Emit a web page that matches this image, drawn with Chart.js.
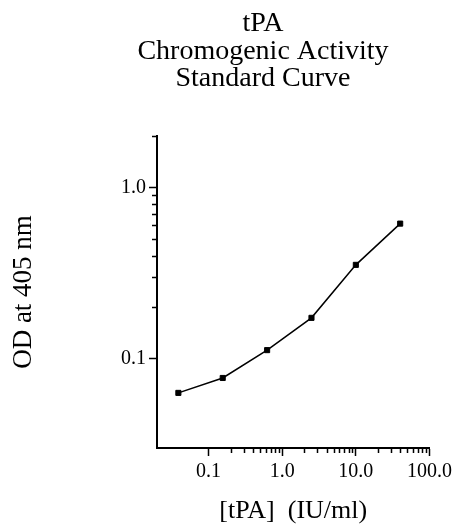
<!DOCTYPE html>
<html>
<head>
<meta charset="utf-8">
<script src="https://cdn.jsdelivr.net/npm/chart.js@4"></script>
<style>
  body { margin: 0; background: #fff; }
  canvas { display: block; }
</style>
</head>
<body>
<canvas id="curveChart" width="456" height="527"></canvas>
<script>
// データ
let titleLines = ['tPA', 'Chromogenic Activity', 'Standard Curve'];
let concentration = [0.039, 0.156, 0.625, 2.5, 10, 40]; // IU/ml
let odValues = [0.063, 0.077, 0.112, 0.173, 0.353, 0.615];

let xMajorTicks = [0.1, 1, 10, 100];
let xTickLabels = ['0.1', '1.0', '10.0', '100.0'];
let xMinorTicks = [0.2, 0.3, 0.4, 0.5, 0.6, 0.7, 0.8, 0.9, 2, 3, 4, 5, 6, 7, 8, 9, 20, 30, 40, 50, 60, 70, 80, 90];
let yMajorTicks = [0.1, 1];
let yTickLabels = ['0.1', '1.0'];
let yMinorTicks = [0.2, 0.3, 0.4, 0.5, 0.6, 0.7, 0.8, 0.9, 2];

let serif = 'Liberation Serif, Times New Roman, serif';

// タイトルと副目盛りを描くプラグイン
let extrasPlugin = {
    id: 'extras',
    afterDraw(chart) {
        let ctx = chart.ctx;
        let xs = chart.scales.x;
        let ys = chart.scales.y;
        let area = chart.chartArea;
        ctx.save();
        ctx.strokeStyle = 'black';
        ctx.lineWidth = 1.5;
        ctx.beginPath();
        xMinorTicks.forEach(v => {
            let px = Math.round(xs.getPixelForValue(v)) + 0.5;
            ctx.moveTo(px, area.bottom);
            ctx.lineTo(px, area.bottom + 5);
        });
        yMinorTicks.forEach(v => {
            let py = Math.round(ys.getPixelForValue(v)) + 0.5;
            ctx.moveTo(area.left, py);
            ctx.lineTo(area.left - 5, py);
        });
        ctx.stroke();

        ctx.fillStyle = 'black';
        ctx.font = '28px ' + serif;
        ctx.textAlign = 'center';
        ctx.textBaseline = 'alphabetic';
        titleLines.forEach((line, i) => {
            ctx.fillText(line, 263, 31 + i * 27.5);
        });
        ctx.restore();
    }
};

let ctx = document.getElementById('curveChart').getContext('2d');
let curveChart = new Chart(ctx, {
    type: 'line',
    data: {
        datasets: [{
            data: concentration.map((c, i) => ({ x: c, y: odValues[i] })),
            borderColor: 'black',
            borderWidth: 1.5,
            fill: false,
            tension: 0,
            pointStyle: 'rect',
            pointRadius: 3.6,
            pointBorderWidth: 1,
            pointBackgroundColor: 'black',
            pointBorderColor: 'black'
        }]
    },
    options: {
        responsive: false,
        animation: false,
        devicePixelRatio: 1,
        layout: { padding: { top: 136, right: 26, left: 0, bottom: 0 } },
        plugins: {
            legend: { display: false },
            tooltip: { enabled: false }
        },
        scales: {
            x: {
                type: 'logarithmic',
                position: 'bottom',
                min: 0.02,
                max: 100,
                afterBuildTicks: scale => { scale.ticks = xMajorTicks.map(v => ({ value: v })); },
                afterFit: scale => { scale.height = 79; },
                ticks: {
                    color: 'black',
                    font: { family: serif, size: 20 },
                    padding: 4,
                    maxRotation: 0,
                    autoSkip: false,
                    callback: value => xTickLabels[xMajorTicks.indexOf(value)]
                },
                grid: { drawOnChartArea: false, drawTicks: true, tickLength: 8, tickWidth: 1.5, tickColor: 'black' },
                border: { display: true, color: 'black', width: 2 },
                title: {
                    display: true,
                    text: '[tPA]  (IU/ml)',
                    color: 'black',
                    font: { family: serif, size: 26, lineHeight: 1.2 },
                    padding: { top: 0, bottom: 0 }
                }
            },
            y: {
                type: 'logarithmic',
                position: 'left',
                min: 0.03,
                max: 2,
                afterBuildTicks: scale => { scale.ticks = yMajorTicks.map(v => ({ value: v })); },
                afterFit: scale => { scale.width = 157; },
                ticks: {
                    color: 'black',
                    font: { family: serif, size: 20 },
                    padding: 3,
                    autoSkip: false,
                    callback: value => yTickLabels[yMajorTicks.indexOf(value)]
                },
                grid: { drawOnChartArea: false, drawTicks: true, tickLength: 8, tickWidth: 1.5, tickColor: 'black' },
                border: { display: true, color: 'black', width: 2 },
                title: {
                    display: true,
                    text: 'OD at 405 nm',
                    color: 'black',
                    font: { family: serif, size: 27, lineHeight: 1.2 },
                    padding: { top: 8, bottom: 0 }
                }
            }
        }
    },
    plugins: [extrasPlugin]
});
</script>
</body>
</html>
